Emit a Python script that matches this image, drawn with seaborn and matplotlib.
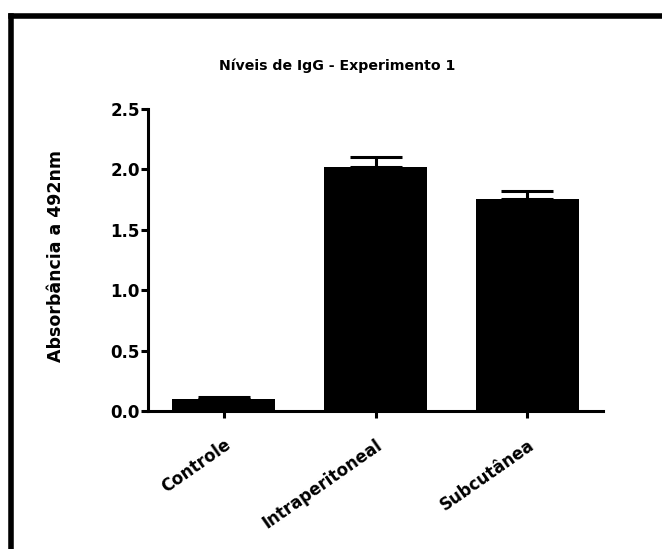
import matplotlib
matplotlib.use("Agg")
import matplotlib.pyplot as plt
import seaborn as sns
import numpy as np
from matplotlib.lines import Line2D

categories = ["Controle", "Intraperitoneal", "Subcutânea"]
values = [0.10, 2.02, 1.755]
errors = [0.015, 0.08, 0.07]
yticks = [0.0, 0.5, 1.0, 1.5, 2.0, 2.5]
title = "Níveis de IgG - Experimento 1"
ylabel = "Absorbância a 492nm"

sns.set_theme(style="white")
plt.rcParams['font.family'] = ['DejaVu Sans']
plt.rcParams['text.color'] = 'black'
plt.rcParams['xtick.color'] = 'black'
plt.rcParams['ytick.color'] = 'black'
plt.rcParams['axes.labelcolor'] = 'black'

W, H = 662, 549
fig = plt.figure(figsize=(W / 100, H / 100), dpi=100)
ax = fig.add_axes([148 / W, 1 - 411 / H, (603 - 148) / W, (411 - 109) / H])

sns.barplot(x=categories, y=values, color="black", width=0.68, ax=ax,
            edgecolor="black", linewidth=0, errorbar=None)
xs = np.arange(len(categories))
ax.errorbar(xs, values, yerr=[np.zeros(len(errors)), errors], fmt="none",
            ecolor="black", elinewidth=2.2, capsize=19, capthick=2.2, zorder=1)

ax.set_xlim(-0.5, 2.5)
ax.set_ylim(0, 2.5)
ax.set_yticks(yticks)
ax.set_yticklabels([f"{t:.1f}" for t in yticks], fontsize=12, fontweight="bold")
ax.set_xticks(xs)
ax.set_xticklabels(categories, rotation=35, ha="right", rotation_mode="anchor",
                   fontsize=12, fontweight="bold")
ax.set_xlabel("")
ax.set_ylabel("")
fig.text(56 / W, 1 - 256 / H, ylabel, rotation=90, ha="center", va="center",
         fontsize=12.5, fontweight="bold")
fig.text(337 / W, 1 - 66 / H, title, ha="center", va="center",
         fontsize=10.2, fontweight="bold")

for s in ["top", "right"]:
    ax.spines[s].set_visible(False)
for s in ["left", "bottom"]:
    ax.spines[s].set_linewidth(2.2)
    ax.spines[s].set_color("black")
ax.tick_params(axis="both", which="major", direction="out", length=5, width=2.2,
               color="black", left=True, bottom=True, pad=1)
ax.tick_params(axis="x", pad=13)

# outer frame (top and left edges visible)
fig.add_artist(Line2D([11 / W, 1.0], [1 - 15.5 / H, 1 - 15.5 / H],
                      transform=fig.transFigure, color="black", lw=4, solid_capstyle="projecting"))
fig.add_artist(Line2D([11 / W, 11 / W], [0.0, 1 - 15.5 / H],
                      transform=fig.transFigure, color="black", lw=4, solid_capstyle="projecting"))

fig.savefig("out.png", dpi=100, facecolor="white")
